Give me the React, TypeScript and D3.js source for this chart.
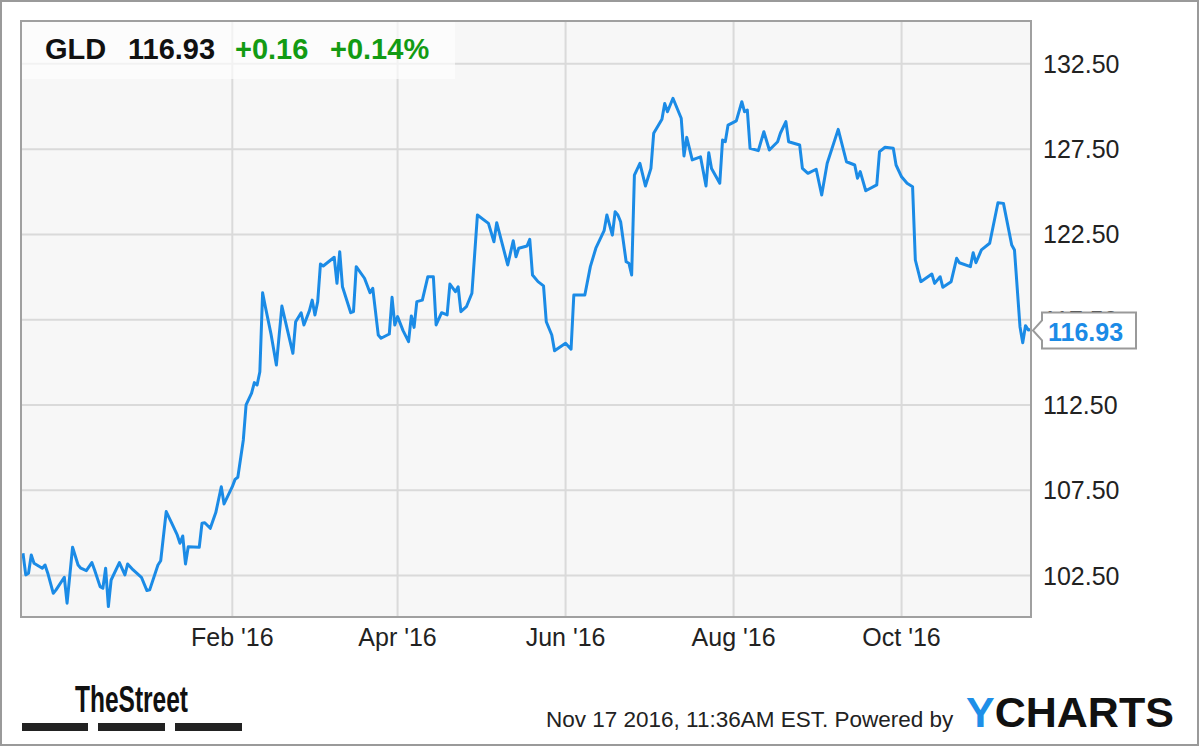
import React from "react";
import * as d3 from "d3";

const dates: string[] = [
  "2015-11-17","2015-11-18","2015-11-19","2015-11-20","2015-11-21","2015-11-24","2015-11-25","2015-11-26","2015-11-28","2015-11-29",
  "2015-12-02","2015-12-03","2015-12-05","2015-12-07","2015-12-08","2015-12-10","2015-12-12","2015-12-13","2015-12-15","2015-12-16",
  "2015-12-17","2015-12-18","2015-12-19","2015-12-22","2015-12-24","2015-12-25","2015-12-27","2015-12-30","2016-01-01","2016-01-02",
  "2016-01-05","2016-01-06","2016-01-08","2016-01-10","2016-01-12","2016-01-13","2016-01-14","2016-01-15","2016-01-16","2016-01-20",
  "2016-01-21","2016-01-22","2016-01-24","2016-01-26","2016-01-28","2016-01-29","2016-02-01","2016-02-02","2016-02-03","2016-02-05",
  "2016-02-06","2016-02-08","2016-02-09","2016-02-10","2016-02-11","2016-02-12","2016-02-13","2016-02-15","2016-02-17","2016-02-19",
  "2016-02-21","2016-02-23","2016-02-24","2016-02-26","2016-02-27","2016-02-29","2016-03-01","2016-03-02","2016-03-03","2016-03-04",
  "2016-03-05","2016-03-09","2016-03-10","2016-03-11","2016-03-12","2016-03-15","2016-03-16","2016-03-17","2016-03-20","2016-03-22",
  "2016-03-23","2016-03-25","2016-03-26","2016-03-29","2016-03-30","2016-03-31","2016-04-01","2016-04-03","2016-04-05","2016-04-06",
  "2016-04-07","2016-04-08","2016-04-10","2016-04-12","2016-04-14","2016-04-15","2016-04-17","2016-04-19","2016-04-20","2016-04-22",
  "2016-04-23","2016-04-24","2016-04-26","2016-04-28","2016-04-30","2016-05-04","2016-05-06","2016-05-07","2016-05-11","2016-05-13",
  "2016-05-14","2016-05-15","2016-05-18","2016-05-19","2016-05-20","2016-05-22","2016-05-24","2016-05-25","2016-05-27","2016-05-28",
  "2016-06-01","2016-06-03","2016-06-04","2016-06-08","2016-06-10","2016-06-12","2016-06-15","2016-06-16","2016-06-18","2016-06-19",
  "2016-06-20","2016-06-21","2016-06-23","2016-06-24","2016-06-25","2016-06-26","2016-06-28","2016-06-30","2016-07-02","2016-07-03",
  "2016-07-06","2016-07-07","2016-07-08","2016-07-10","2016-07-13","2016-07-14","2016-07-15","2016-07-17","2016-07-20","2016-07-22",
  "2016-07-23","2016-07-24","2016-07-27","2016-07-28","2016-07-29","2016-07-30","2016-08-02","2016-08-04","2016-08-05","2016-08-06",
  "2016-08-07","2016-08-10","2016-08-12","2016-08-14","2016-08-17","2016-08-18","2016-08-20","2016-08-21","2016-08-25","2016-08-26",
  "2016-08-28","2016-08-31","2016-09-02","2016-09-04","2016-09-08","2016-09-11","2016-09-14","2016-09-15","2016-09-16","2016-09-18",
  "2016-09-22","2016-09-23","2016-09-25","2016-09-28","2016-09-29","2016-10-01","2016-10-03","2016-10-05","2016-10-06","2016-10-08",
  "2016-10-12","2016-10-13","2016-10-15","2016-10-16","2016-10-19","2016-10-21","2016-10-22","2016-10-26","2016-10-27","2016-10-28",
  "2016-10-30","2016-11-02","2016-11-05","2016-11-07","2016-11-10","2016-11-11","2016-11-13","2016-11-14","2016-11-15","2016-11-16",
  "2016-11-17",
];

const prices: number[] = [
  103.81,102.54,102.64,103.71,103.22,102.93,103.12,102.64,101.46,101.66,
  102.40,100.88,104.16,103.12,102.93,102.79,103.26,102.83,101.85,101.76,
  102.93,100.68,102.24,103.26,102.54,103.18,102.83,102.40,101.62,101.66,
  103.12,103.37,106.25,105.57,104.88,104.39,104.82,103.18,104.19,104.16,
  105.57,105.60,105.27,106.19,107.71,106.70,107.71,108.14,108.26,110.45,
  112.50,113.19,113.81,113.67,114.45,119.08,118.26,116.70,114.84,118.30,
  116.90,115.53,117.38,117.91,117.19,118.03,118.65,117.78,118.55,120.76,
  120.65,121.16,119.63,121.49,119.43,117.91,117.97,120.61,119.93,119.08,
  119.34,116.60,116.41,116.66,118.81,117.19,117.68,116.86,116.21,117.72,
  117.05,118.56,118.65,120.02,120.02,117.19,117.91,117.78,119.59,119.14,
  119.43,117.97,118.26,119.05,123.64,123.15,122.07,123.19,120.71,122.13,
  121.19,121.69,121.82,122.21,120.12,119.73,119.48,117.38,116.60,115.68,
  116.12,115.77,118.95,118.95,120.61,121.69,122.72,123.64,122.46,123.83,
  123.64,123.24,120.90,120.81,120.12,125.98,126.67,125.34,126.37,128.43,
  129.25,130.18,129.69,130.48,129.31,127.10,128.19,126.87,127.05,125.34,
  127.29,126.37,125.50,128.03,127.93,128.91,129.16,130.28,129.69,129.79,
  127.55,127.41,128.52,127.45,127.93,128.43,129.11,127.93,127.74,126.37,
  126.08,126.32,124.81,126.67,128.66,126.76,126.57,125.79,126.18,125.06,
  125.40,127.35,127.61,127.55,126.57,125.88,125.50,125.30,121.00,119.73,
  120.18,119.63,120.02,119.40,119.73,121.10,120.84,120.61,121.43,120.84,
  121.59,121.98,124.36,124.32,121.88,121.59,117.09,116.15,117.15,116.90,
  116.93,
];

const xTickDates: string[] = ["2016-02-01", "2016-04-01", "2016-06-01", "2016-08-01", "2016-10-01"];
const yTicks: number[] = [102.5, 107.5, 112.5, 117.5, 122.5, 127.5, 132.5];
const xDomain: string[] = ["2015-11-17", "2016-11-17"];
const yDomain: number[] = [100, 135];

const ticker = "GLD";
const lastPrice = "116.93";
const changeAbs = "+0.16";
const changePct = "+0.14%";
const timestamp = "Nov 17 2016, 11:36AM EST. Powered by";

const W = 1200;
const H = 747;
const plot = { left: 21, right: 1031, top: 21, bottom: 617 };
const FONT = "'Liberation Sans', Arial, Helvetica, sans-serif";
const BLUE = "#1b8be6";

export default function App() {
  const parse = d3.timeParse("%Y-%m-%d");
  const data = dates.map((d, i) => ({ date: parse(d) as Date, value: prices[i] }));

  const x = d3
    .scaleTime()
    .domain(xDomain.map((d) => parse(d) as Date))
    .range([23, 1031]);
  const y = d3.scaleLinear().domain(yDomain).range([618.2, 21.2]);

  const line = d3
    .line<{ date: Date; value: number }>()
    .x((d) => x(d.date))
    .y((d) => y(d.value));

  const fmtX = d3.timeFormat("%b '%y");
  const fmtY = d3.format(".2f");

  const last = data[data.length - 1];
  const yc = y(last.value);
  const tipX = plot.right + 2;
  const boxL = 1042;
  const boxR = 1136;

  return (
    <div style={{ position: "absolute", left: 0, top: 0 }}>
      <svg width={W} height={H} style={{ display: "block" }} fontFamily={FONT}>
        <rect x={0} y={0} width={W} height={H} fill="#ffffff" />
        <rect x={1} y={1} width={W - 3} height={H - 3} fill="none" stroke="#9a9a9a" strokeWidth={2} />

        {/* plot background */}
        <rect
          x={plot.left}
          y={plot.top}
          width={plot.right - plot.left}
          height={plot.bottom - plot.top}
          fill="#f7f7f7"
        />

        {/* grid */}
        {yTicks.map((t) => (
          <line key={"gy" + t} x1={plot.left} x2={plot.right} y1={y(t)} y2={y(t)} stroke="#dadada" strokeWidth={2} />
        ))}
        {xTickDates.map((t) => {
          const xx = x(parse(t) as Date);
          return (
            <line key={"gx" + t} x1={xx} x2={xx} y1={plot.top} y2={plot.bottom} stroke="#dadada" strokeWidth={2} />
          );
        })}

        {/* header box */}
        <rect x={plot.left} y={plot.top} width={434} height={58} fill="#ffffff" fillOpacity={0.65} />

        {/* price line */}
        <path d={line(data) || ""} fill="none" stroke={BLUE} strokeWidth={3} strokeLinejoin="round" />

        {/* plot border */}
        <rect
          x={plot.left}
          y={plot.top}
          width={plot.right - plot.left}
          height={plot.bottom - plot.top}
          fill="none"
          stroke="#a0a0a0"
          strokeWidth={2}
        />

        {/* header text */}
        <g fontSize={29} fontWeight="bold">
          <text x={45} y={59} fill="#111111">{ticker}</text>
          <text x={128} y={59} fill="#111111">{lastPrice}</text>
          <text x={235} y={59} fill="#139b13">{changeAbs}</text>
          <text x={330} y={59} fill="#139b13">{changePct}</text>
        </g>

        {/* y axis labels */}
        {yTicks.map((t) => (
          <text key={"ly" + t} x={1043} y={y(t) + 9} fontSize={25} fill="#222222">
            {fmtY(t)}
          </text>
        ))}

        {/* x axis labels */}
        {xTickDates.map((t) => {
          const dt = parse(t) as Date;
          return (
            <text key={"lx" + t} x={x(dt)} y={646} fontSize={25} fill="#222222" textAnchor="middle">
              {fmtX(dt)}
            </text>
          );
        })}

        {/* last value callout */}
        <path
          d={`M${tipX},${yc + 1} L${boxL},${yc - 9} L${boxL},${yc - 17} L${boxR},${yc - 17} L${boxR},${yc + 19} L${boxL},${yc + 19} L${boxL},${yc + 11} Z`}
          fill="#ffffff"
          stroke="#9a9a9a"
          strokeWidth={2}
        />
        <text x={1048} y={yc + 12} fontSize={25} fontWeight="bold" fill={BLUE}>
          {lastPrice}
        </text>

        {/* footer: TheStreet logo */}
        <text
          x={75}
          y={712}
          fontSize={36}
          fontWeight="bold"
          fill="#111111"
          textLength={113}
          lengthAdjust="spacingAndGlyphs"
        >
          TheStreet
        </text>
        <rect x={22} y={723} width={66} height={8} fill="#222222" />
        <rect x={98} y={723} width={67} height={8} fill="#222222" />
        <rect x={175} y={723} width={67} height={8} fill="#222222" />

        {/* footer: timestamp and YCharts */}
        <text x={546} y={727} fontSize={22.5} fill="#222222">
          {timestamp}
        </text>
        <text x={966} y={727} fontSize={43} fontWeight="bold" fill="#111111">
          <tspan fill="#1e8fe8">Y</tspan>
          <tspan>CHARTS</tspan>
        </text>
      </svg>
    </div>
  );
}
